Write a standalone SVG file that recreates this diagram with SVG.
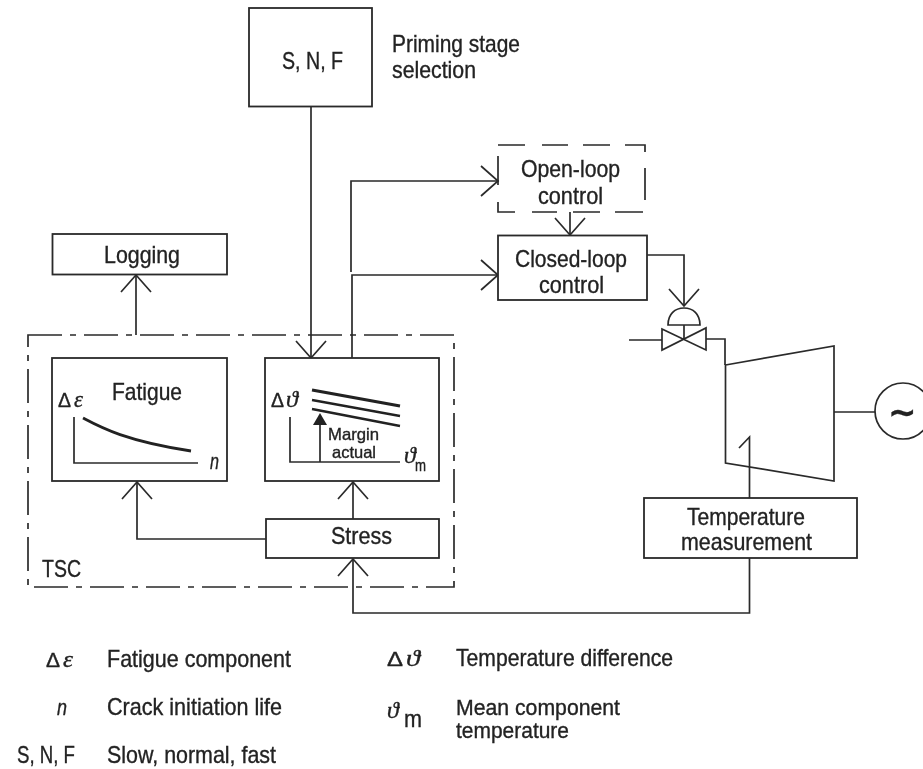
<svg xmlns="http://www.w3.org/2000/svg" width="923" height="769" viewBox="0 0 923 769">
<defs>
<marker id="v" markerUnits="userSpaceOnUse" markerWidth="40" markerHeight="40" refX="20" refY="20" orient="auto" overflow="visible"><path d="M3,5 L20,20 L3,35" fill="none" stroke="#2a2a2a" stroke-width="1.7"/></marker>
<filter id="soft" x="-2%" y="-2%" width="104%" height="104%"><feGaussianBlur stdDeviation="0.45"/></filter>
</defs>
<style>
.b{fill:#fff;stroke:#2a2a2a;stroke-width:1.8}
.l{fill:none;stroke:#2a2a2a;stroke-width:1.7}
.a{marker-end:url(#v)}
text{font-family:"Liberation Sans Narrow","Liberation Sans",sans-serif;font-size:24px;fill:#222;stroke:#222;stroke-width:.35}
.s{font-size:16.500px}
.k{font-size:22px}
.g{font-family:"Liberation Serif","DejaVu Serif",serif;font-style:italic;font-size:24px}
.u{font-family:"Liberation Sans",sans-serif;font-size:20px}
.n{font-style:italic;font-size:22px}
</style>
<rect width="923" height="769" fill="#fff"/>
<g filter="url(#soft)">
<g id="tsc"><rect class="l" x="28" y="335" width="426" height="252" stroke-dasharray="34 8 6 8"/><text x="42" y="577" textLength="39" lengthAdjust="spacingAndGlyphs">TSC</text></g>
<g id="connectors">
<path class="l a" d="M311,107V358"/>
<path class="l a" d="M136,335V275"/>
<path class="l a" d="M352,358V275H498"/>
<path class="l a" d="M351,272V181H498"/>
<path class="l a" d="M570,212V235"/>
<path class="l a" d="M647,255H684V306"/>
<path class="l a" d="M353,519V482"/>
<path class="l a" d="M266,539H137V482"/>
<path class="l a" d="M749.500,558V613H353V559"/>
<path class="l" d="M749.500,498V437L739,448"/>
<path class="l" d="M629,340H662M706,339H725V365"/>
<path class="l" d="M834,412H875"/>
</g>
<g id="snf"><rect class="b" x="249" y="8" width="123" height="98.500"/><text x="282" y="69" textLength="61" lengthAdjust="spacingAndGlyphs">S, N, F</text></g>
<g id="priming"><text x="392" y="52" textLength="128" lengthAdjust="spacingAndGlyphs">Priming stage</text><text x="392" y="78" textLength="84" lengthAdjust="spacingAndGlyphs">selection</text></g>
<g id="logging"><rect class="b" x="52.500" y="234" width="174.500" height="40.500"/><text x="104" y="263" textLength="76" lengthAdjust="spacingAndGlyphs">Logging</text></g>
<g id="open-loop"><path class="l" d="M498,145H525M542,145H568M583,145H610M625,145H645V152M645,168V200M498,202V212H515M532,212H557M573,212H600M615,212H643M498,156V185"/><text x="521" y="177" textLength="99" lengthAdjust="spacingAndGlyphs">Open-loop</text><text x="538" y="204" textLength="65" lengthAdjust="spacingAndGlyphs">control</text></g>
<g id="closed-loop"><rect class="b" x="498" y="235.500" width="149" height="64.500"/><text x="515" y="267" textLength="112" lengthAdjust="spacingAndGlyphs">Closed-loop</text><text x="539" y="293" textLength="65" lengthAdjust="spacingAndGlyphs">control</text></g>
<g id="fatigue"><rect class="b" x="52" y="358" width="175" height="123"/><text x="112" y="400" textLength="70" lengthAdjust="spacingAndGlyphs">Fatigue</text>
<text class="u" x="58" y="407" textLength="13" lengthAdjust="spacingAndGlyphs">Δ</text><text class="g" x="74" y="407" textLength="9" lengthAdjust="spacingAndGlyphs">ε</text>
<path class="l" d="M74,417V463H198"/><path d="M83,418C100,427 125,441 191,451" fill="none" stroke="#222" stroke-width="2.800"/>
<text class="n" x="210" y="469" textLength="9" lengthAdjust="spacingAndGlyphs">n</text></g>
<g id="margin"><rect class="b" x="265" y="358" width="174" height="123"/>
<text class="u" x="271" y="407" textLength="13" lengthAdjust="spacingAndGlyphs">Δ</text><text class="g" x="286" y="407" textLength="12" lengthAdjust="spacingAndGlyphs">ϑ</text>
<path class="l" d="M290,417V462H400M320,462V420"/><path d="M320,413L313,425H327Z" fill="#222"/>
<path d="M312,390L400,406" fill="none" stroke="#222" stroke-width="3.200"/><path d="M312,400L400,416M312,409L400,426" fill="none" stroke="#222" stroke-width="2.400"/>
<text class="s" x="328" y="440" textLength="51" lengthAdjust="spacingAndGlyphs">Margin</text><text class="s" x="332" y="458" textLength="44" lengthAdjust="spacingAndGlyphs">actual</text>
<text class="g" x="404" y="463">ϑ</text><text class="s" x="415" y="471" textLength="11" lengthAdjust="spacingAndGlyphs">m</text></g>
<g id="stress"><rect class="b" x="266" y="519" width="173" height="39"/><text x="331" y="544" textLength="61" lengthAdjust="spacingAndGlyphs">Stress</text></g>
<g id="temperature"><rect class="b" x="644" y="498" width="213" height="60"/><text x="687" y="525" textLength="118" lengthAdjust="spacingAndGlyphs">Temperature</text><text x="681" y="550" textLength="131" lengthAdjust="spacingAndGlyphs">measurement</text></g>
<g id="valve"><path class="l" d="M668,325C668,314 675,308 684,308C693,308 700,314 700,325ZM684,325V340"/><path class="l" d="M662,329L706,350V328L662,350Z"/></g>
<g id="turbine"><path class="l" d="M725.500,365L834,346V481L725.500,463Z"/></g>
<g id="generator"><circle class="l" cx="903" cy="411" r="28"/><text x="888" y="424" style="font-family:'DejaVu Sans',sans-serif;font-size:34px;font-weight:bold">~</text></g>
<g id="legend">
<text class="u" x="46" y="667" textLength="14" lengthAdjust="spacingAndGlyphs">Δ</text><text class="g" x="63" y="667" textLength="10" lengthAdjust="spacingAndGlyphs">ε</text><text x="107" y="667" textLength="184" lengthAdjust="spacingAndGlyphs">Fatigue component</text>
<text class="n" x="57" y="715" textLength="10" lengthAdjust="spacingAndGlyphs">n</text><text x="107" y="715" textLength="175" lengthAdjust="spacingAndGlyphs">Crack initiation life</text>
<text x="17" y="763" textLength="58" lengthAdjust="spacingAndGlyphs">S, N, F</text><text x="107" y="763" textLength="169" lengthAdjust="spacingAndGlyphs">Slow, normal, fast</text>
<text class="u" x="387" y="666" textLength="16" lengthAdjust="spacingAndGlyphs">Δ</text><text class="g" x="406" y="666" textLength="14" lengthAdjust="spacingAndGlyphs">ϑ</text><text x="456" y="666" textLength="217" lengthAdjust="spacingAndGlyphs">Temperature difference</text>
<text class="g" x="387" y="718">ϑ</text><text x="404" y="727" textLength="18" lengthAdjust="spacingAndGlyphs">m</text>
<text class="k" x="456" y="715" textLength="164" lengthAdjust="spacingAndGlyphs">Mean component</text><text class="k" x="456" y="738" textLength="113" lengthAdjust="spacingAndGlyphs">temperature</text>
</g>
</g>
</svg>
